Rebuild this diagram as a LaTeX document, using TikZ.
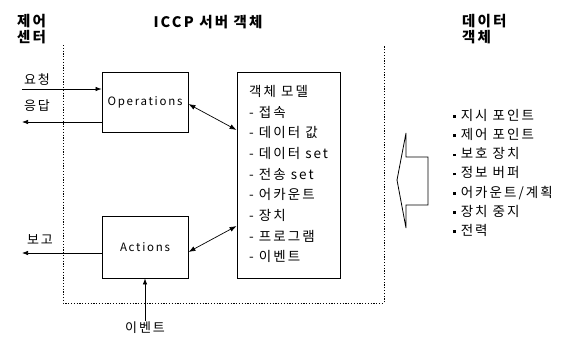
\documentclass[tikz,border=0pt]{standalone}
\usepackage{fontspec}
\setmainfont{Noto Sans CJK KR}[LetterSpace=15]
\usetikzlibrary{arrows.meta}

\newcommand{\sqbul}{\raisebox{0.35ex}{\rule{2.6pt}{2.6pt}}\hspace{5pt}}

\tikzset{
  blk/.style={draw, rectangle, line width=0.8pt, inner sep=0pt, font=\fontsize{11.5}{14}\selectfont},
  lbl/.style={font=\fontsize{13}{15}\selectfont, inner sep=1pt},
  ttl/.style={font=\bfseries\fontsize{14.5}{16}\selectfont, inner sep=0pt},
  tip/.style={-{Latex[length=6pt,width=4.5pt]}, line width=0.7pt},
  dtip/.style={{Latex[length=7pt,width=5pt]}-{Latex[length=7pt,width=5pt]}, line width=0.7pt},
  frame/.style={line width=0.7pt, dash pattern=on 1.2pt off 1.6pt},
}

\begin{document}
\begin{tikzpicture}[x=1pt,y=-1pt]
    \useasboundingbox (0,0) rectangle (569,338);

    % headings
    \node[ttl, align=left, anchor=north west] (ctrl) at (17,14) {제어\\센터};
    \node[ttl] (srv) at (208,22) {ICCP 서버 객체};
    \node[ttl, align=left, anchor=north west] (dobj) at (462,14) {데이터\\객체};

    % server boundary, open at the top
    \draw[frame] (63,45) -- (63,303) -- (384,303) -- (384,45);

    \node[blk, minimum width=86pt, minimum height=60pt] (ops) at (145,102) {Operations};
    \node[blk, minimum width=86pt, minimum height=62pt] (act) at (145,247) {Actions};
    \node[blk, minimum width=103pt, minimum height=206pt] (model) at (288.5,175) {};
    \node[lbl, font=\fontsize{13.5}{20.7}\selectfont, align=left, anchor=north west, inner sep=0pt] (mtxt) at (249,85)
        {객체 모델\\- 접속\\- 데이터 값\\- 데이터 set\\- 전송 set\\- 어카운트\\- 장치\\- 프로그램\\- 이벤트};

    % links to the control centre
    \node[lbl] (reqlbl) at (37,80) {요청};
    \node[lbl] (resplbl) at (37,106) {응답};
    \node[lbl] (replbl) at (40,240) {보고};
    \node[lbl] (evlbl) at (145,328) {이벤트};
    \coordinate (reqend) at (22,89);
    \coordinate (respend) at (22,122);
    \coordinate (repend) at (22,253);
    \draw[tip] (reqend) -- (reqend -| ops.west);
    \draw[tip] (respend -| ops.west) -- (respend);
    \draw[tip] (repend -| act.west) -- (repend);
    \draw[tip] (evlbl.north) -- (act.south);

    \draw[dtip] ([yshift=-2pt]ops.east) -- ([yshift=45pt]model.west);
    \draw[dtip] ([yshift=-5pt]act.east) -- ([yshift=-51pt]model.west);

    % data objects feed the model
    \draw[line width=0.8pt] (428,157) -- (406,157) -- (406,133) -- (397,180) -- (406,228) -- (406,205) -- (428,205) -- cycle;
    \node[lbl, font=\fontsize{13.5}{19.2}\selectfont, align=left, anchor=north west, inner sep=0pt] (dlist) at (453,109)
        {\sqbul 지시 포인트\\\sqbul 제어 포인트\\\sqbul 보호 장치\\\sqbul 정보 버퍼\\\sqbul 어카운트/계획\\\sqbul 장치 중지\\\sqbul 전력};
\end{tikzpicture}
\end{document}
